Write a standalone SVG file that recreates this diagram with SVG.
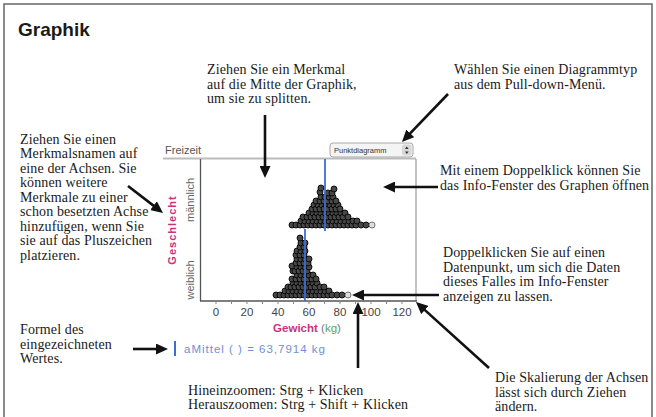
<svg xmlns="http://www.w3.org/2000/svg" width="656" height="417" viewBox="0 0 656 417">
<style>
.t{font-family:"Liberation Serif","Times New Roman",serif;font-size:14px;fill:#1a1a1a;letter-spacing:0.12px}
.s{font-family:"Liberation Sans",Arial,sans-serif}
.arr{stroke:#111;stroke-width:2.6;fill:none;marker-end:url(#ah)}
.d{fill:#474747;stroke:#050505;stroke-width:0.9}
.o{fill:#ddd;stroke:#666;stroke-width:0.9}
.tk{font-family:"Liberation Sans",Arial,sans-serif;font-size:11.5px;fill:#444;text-anchor:middle}
</style>
<defs>
<marker id="ah" markerUnits="userSpaceOnUse" markerWidth="13" markerHeight="11" refX="4" refY="5.5" orient="auto">
<path d="M0,0 L12,5.5 L0,11 Z" fill="#111"/>
</marker>
</defs>
<rect width="656" height="417" fill="#fff"/>
<path d="M4,420 V4 H652 V420" fill="none" stroke="#666" stroke-width="1.5"/>
<text x="18" y="36" class="s" font-size="19" font-weight="bold" fill="#1a1a1a">Graphik</text>

<g id="plot">
<text x="165" y="154" class="s" font-size="11" fill="#555">Freizeit</text>
<line x1="163" y1="158.5" x2="416" y2="158.5" stroke="#bbb" stroke-width="2"/>
<g id="dropdown">
<rect x="330" y="143" width="83" height="14" rx="3" fill="#f4f4f4" stroke="#aaa"/>
<text x="334" y="153.3" class="s" font-size="7.5" fill="#333">Punktdiagramm</text>
<rect x="402" y="144.5" width="9.5" height="11" rx="2" fill="#d8d8d8"/>
<path d="M405,149 L406.8,146.5 L408.6,149 Z M405,151.5 L406.8,154 L408.6,151.5 Z" fill="#333"/>
</g>
<line x1="200.5" y1="159" x2="200.5" y2="301" stroke="#555" stroke-width="1.3"/>
<line x1="416" y1="159" x2="416" y2="301" stroke="#999" stroke-width="1.2"/>
<line x1="200" y1="301" x2="417" y2="301" stroke="#555" stroke-width="1.3"/>
<path d="M216,301v3M231.5,301v3M247,301v3M262.5,301v3M278,301v3M293.5,301v3M309,301v3M324.5,301v3M340,301v3M355.5,301v3M371,301v3M386.5,301v3M402,301v3" stroke="#888" stroke-width="1"/>
<text class="tk" x="216" y="316">0</text>
<text class="tk" x="247" y="316">20</text>
<text class="tk" x="278" y="316">40</text>
<text class="tk" x="309" y="316">60</text>
<text class="tk" x="340" y="316">80</text>
<text class="tk" x="371" y="316">100</text>
<text class="tk" x="402" y="316">120</text>
<text x="307" y="332" class="s" font-size="11.5" text-anchor="middle"><tspan font-weight="bold" fill="#c8337e">Gewicht</tspan><tspan fill="#777"> (</tspan><tspan fill="#55aa55">kg</tspan><tspan fill="#777">)</tspan></text>
<text transform="translate(176,230) rotate(-90)" class="s" font-size="11" font-weight="bold" fill="#c8337e" text-anchor="middle" letter-spacing="1">Geschlecht</text>
<text transform="translate(194,200) rotate(-90)" class="s" font-size="11" fill="#666" text-anchor="middle">männlich</text>
<text transform="translate(194,280) rotate(-90)" class="s" font-size="11" fill="#666" text-anchor="middle">weiblich</text>

<g id="dots-male">
<circle class="d" r="3" cx="292" cy="225"/>
<circle class="d" r="3" cx="296" cy="225"/>
<circle class="d" r="3" cx="300" cy="225"/><circle class="d" r="3" cx="301" cy="221"/>
<circle class="d" r="3" cx="304" cy="225"/><circle class="d" r="3" cx="305" cy="221"/><circle class="d" r="3" cx="303" cy="217"/>
<circle class="d" r="3" cx="308" cy="225"/><circle class="d" r="3" cx="309" cy="221"/><circle class="d" r="3" cx="307" cy="217"/><circle class="d" r="3" cx="309" cy="213"/>
<circle class="d" r="3" cx="312" cy="225"/><circle class="d" r="3" cx="313" cy="221"/><circle class="d" r="3" cx="311" cy="217"/><circle class="d" r="3" cx="313" cy="213"/><circle class="d" r="3" cx="312" cy="209"/><circle class="d" r="3" cx="314" cy="205"/>
<circle class="d" r="3" cx="316" cy="225"/><circle class="d" r="3" cx="317" cy="221"/><circle class="d" r="3" cx="315" cy="217"/><circle class="d" r="3" cx="317" cy="213"/><circle class="d" r="3" cx="316" cy="209"/><circle class="d" r="3" cx="318" cy="205"/><circle class="d" r="3" cx="316" cy="201"/>
<circle class="d" r="3" cx="320" cy="225"/><circle class="d" r="3" cx="321" cy="221"/><circle class="d" r="3" cx="319" cy="217"/><circle class="d" r="3" cx="321" cy="213"/><circle class="d" r="3" cx="320" cy="209"/><circle class="d" r="3" cx="322" cy="205"/><circle class="d" r="3" cx="320" cy="201"/><circle class="d" r="3" cx="321" cy="197"/><circle class="d" r="3" cx="320" cy="192"/><circle class="d" r="3" cx="321" cy="188"/>
<circle class="d" r="3" cx="324" cy="225"/><circle class="d" r="3" cx="325" cy="221"/><circle class="d" r="3" cx="323" cy="217"/><circle class="d" r="3" cx="325" cy="213"/><circle class="d" r="3" cx="324" cy="209"/><circle class="d" r="3" cx="326" cy="205"/><circle class="d" r="3" cx="324" cy="201"/><circle class="d" r="3" cx="325" cy="197"/>
<circle class="d" r="3" cx="328" cy="225"/><circle class="d" r="3" cx="329" cy="221"/><circle class="d" r="3" cx="327" cy="217"/><circle class="d" r="3" cx="329" cy="213"/><circle class="d" r="3" cx="328" cy="209"/><circle class="d" r="3" cx="330" cy="205"/><circle class="d" r="3" cx="328" cy="201"/><circle class="d" r="3" cx="329" cy="197"/><circle class="d" r="3" cx="328" cy="193"/>
<circle class="d" r="3" cx="332" cy="225"/><circle class="d" r="3" cx="333" cy="221"/><circle class="d" r="3" cx="331" cy="217"/><circle class="d" r="3" cx="333" cy="213"/><circle class="d" r="3" cx="332" cy="209"/><circle class="d" r="3" cx="334" cy="205"/><circle class="d" r="3" cx="332" cy="201"/><circle class="d" r="3" cx="333" cy="197"/><circle class="d" r="3" cx="332" cy="193"/><circle class="d" r="3" cx="334" cy="189"/>
<circle class="d" r="3" cx="336" cy="225"/><circle class="d" r="3" cx="337" cy="221"/><circle class="d" r="3" cx="335" cy="217"/><circle class="d" r="3" cx="337" cy="213"/><circle class="d" r="3" cx="336" cy="209"/><circle class="d" r="3" cx="338" cy="205"/><circle class="d" r="3" cx="336" cy="201"/>
<circle class="d" r="3" cx="340" cy="225"/><circle class="d" r="3" cx="341" cy="221"/><circle class="d" r="3" cx="339" cy="217"/><circle class="d" r="3" cx="341" cy="213"/><circle class="d" r="3" cx="340" cy="209"/>
<circle class="d" r="3" cx="344" cy="225"/><circle class="d" r="3" cx="345" cy="221"/><circle class="d" r="3" cx="343" cy="217"/><circle class="d" r="3" cx="345" cy="213"/>
<circle class="d" r="3" cx="348" cy="225"/><circle class="d" r="3" cx="349" cy="221"/><circle class="d" r="3" cx="348" cy="217"/>
<circle class="d" r="3" cx="352" cy="225"/><circle class="d" r="3" cx="353" cy="221"/>
<circle class="d" r="3" cx="356" cy="225"/><circle class="d" r="3" cx="357" cy="221"/>
<circle class="d" r="3" cx="361" cy="225"/>
<circle class="d" r="3" cx="366" cy="225"/>
<circle class="o" r="3" cx="372" cy="225"/>
</g>

<g id="dots-female">
<circle class="d" r="3" cx="276" cy="295"/>
<circle class="d" r="3" cx="280" cy="295"/>
<circle class="d" r="3" cx="284" cy="295"/><circle class="d" r="3" cx="285" cy="291"/>
<circle class="d" r="3" cx="288" cy="295"/><circle class="d" r="3" cx="289" cy="291"/><circle class="d" r="3" cx="288" cy="287"/>
<circle class="d" r="3" cx="292" cy="295"/><circle class="d" r="3" cx="293" cy="291"/><circle class="d" r="3" cx="291" cy="287"/><circle class="d" r="3" cx="293" cy="283"/><circle class="d" r="3" cx="292" cy="279"/><circle class="d" r="3" cx="293" cy="271"/><circle class="d" r="3" cx="292" cy="266"/>
<circle class="d" r="3" cx="296" cy="295"/><circle class="d" r="3" cx="297" cy="291"/><circle class="d" r="3" cx="295" cy="287"/><circle class="d" r="3" cx="297" cy="283"/><circle class="d" r="3" cx="296" cy="279"/><circle class="d" r="3" cx="297" cy="275"/><circle class="d" r="3" cx="295" cy="271"/><circle class="d" r="3" cx="297" cy="267"/><circle class="d" r="3" cx="296" cy="263"/><circle class="d" r="3" cx="297" cy="259"/><circle class="d" r="3" cx="296" cy="255"/><circle class="d" r="3" cx="297" cy="251"/>
<circle class="d" r="3" cx="300" cy="295"/><circle class="d" r="3" cx="301" cy="291"/><circle class="d" r="3" cx="299" cy="287"/><circle class="d" r="3" cx="301" cy="283"/><circle class="d" r="3" cx="300" cy="279"/><circle class="d" r="3" cx="301" cy="275"/><circle class="d" r="3" cx="299" cy="271"/><circle class="d" r="3" cx="301" cy="267"/><circle class="d" r="3" cx="300" cy="263"/><circle class="d" r="3" cx="301" cy="259"/><circle class="d" r="3" cx="300" cy="255"/><circle class="d" r="3" cx="301" cy="251"/><circle class="d" r="3" cx="300" cy="247"/><circle class="d" r="3" cx="301" cy="243"/><circle class="d" r="3" cx="300" cy="238"/>
<circle class="d" r="3" cx="304" cy="295"/><circle class="d" r="3" cx="305" cy="291"/><circle class="d" r="3" cx="303" cy="287"/><circle class="d" r="3" cx="305" cy="283"/><circle class="d" r="3" cx="304" cy="279"/><circle class="d" r="3" cx="305" cy="275"/><circle class="d" r="3" cx="303" cy="271"/><circle class="d" r="3" cx="305" cy="267"/><circle class="d" r="3" cx="304" cy="263"/><circle class="d" r="3" cx="305" cy="259"/><circle class="d" r="3" cx="304" cy="255"/><circle class="d" r="3" cx="305" cy="251"/><circle class="d" r="3" cx="304" cy="247"/><circle class="d" r="3" cx="305" cy="243"/>
<circle class="d" r="3" cx="308" cy="295"/><circle class="d" r="3" cx="309" cy="291"/><circle class="d" r="3" cx="307" cy="287"/><circle class="d" r="3" cx="309" cy="283"/><circle class="d" r="3" cx="308" cy="279"/><circle class="d" r="3" cx="309" cy="275"/><circle class="d" r="3" cx="307" cy="271"/><circle class="d" r="3" cx="309" cy="267"/><circle class="d" r="3" cx="308" cy="263"/><circle class="d" r="3" cx="309" cy="259"/>
<circle class="d" r="3" cx="312" cy="295"/><circle class="d" r="3" cx="313" cy="291"/><circle class="d" r="3" cx="311" cy="287"/><circle class="d" r="3" cx="313" cy="283"/><circle class="d" r="3" cx="312" cy="279"/><circle class="d" r="3" cx="313" cy="275"/>
<circle class="d" r="3" cx="316" cy="295"/><circle class="d" r="3" cx="317" cy="291"/><circle class="d" r="3" cx="315" cy="287"/><circle class="d" r="3" cx="317" cy="283"/><circle class="d" r="3" cx="316" cy="279"/>
<circle class="d" r="3" cx="320" cy="295"/><circle class="d" r="3" cx="321" cy="291"/><circle class="d" r="3" cx="320" cy="287"/>
<circle class="d" r="3" cx="324" cy="295"/><circle class="d" r="3" cx="325" cy="291"/><circle class="d" r="3" cx="324" cy="287"/>
<circle class="d" r="3" cx="328" cy="295"/><circle class="d" r="3" cx="329" cy="291"/>
<circle class="d" r="3" cx="332" cy="295"/>
<circle class="d" r="3" cx="337" cy="295"/>
<circle class="d" r="3" cx="342" cy="295"/>
<circle class="o" r="3" cx="348" cy="295"/>
</g>
<line x1="325" y1="159" x2="325" y2="231" stroke="#3a6fd8" stroke-width="1.8"/>
<line x1="305" y1="229" x2="305" y2="301" stroke="#3a6fd8" stroke-width="1.8"/>
<g id="legend">
<line x1="175" y1="341" x2="175" y2="356" stroke="#3a6fd8" stroke-width="2"/>
<text x="184" y="352.5" class="s" font-size="11.5" fill="#6f8fd6" textLength="141" lengthAdjust="spacing">aMittel (  ) = 63,7914 kg</text>
</g>
</g>

<g id="note-split"><text class="t" x="207" y="74">Ziehen Sie ein Merkmal</text><text class="t" x="207" y="88.5">auf die Mitte der Graphik,</text><text class="t" x="207" y="103">um sie zu splitten.</text></g>
<g id="note-type"><text class="t" x="454" y="74">Wählen Sie einen Diagrammtyp</text><text class="t" x="454" y="88.5">aus dem Pull-down-Menü.</text></g>
<g id="note-axis">
<text class="t" x="20" y="143.5">Ziehen Sie einen</text>
<text class="t" x="20" y="158">Merkmalsnamen auf</text>
<text class="t" x="20" y="172.5">eine der Achsen. Sie</text>
<text class="t" x="20" y="187">können weitere</text>
<text class="t" x="20" y="201.5">Merkmale zu einer</text>
<text class="t" x="20" y="216">schon besetzten Achse</text>
<text class="t" x="20" y="230.5">hinzufügen, wenn Sie</text>
<text class="t" x="20" y="245">sie auf das Pluszeichen</text>
<text class="t" x="20" y="259.5">platzieren.</text>
</g>
<g id="note-info"><text class="t" x="440" y="175">Mit einem Doppelklick können Sie</text><text class="t" x="440" y="190">das Info-Fenster des Graphen öffnen</text></g>
<g id="note-point"><text class="t" x="443" y="257">Doppelklicken Sie auf einen</text><text class="t" x="443" y="271.5">Datenpunkt, um sich die Daten</text><text class="t" x="443" y="286">dieses Falles im Info-Fenster</text><text class="t" x="443" y="300.5">anzeigen zu lassen.</text></g>
<g id="note-formula"><text class="t" x="20" y="334">Formel des</text><text class="t" x="20" y="348.5">eingezeichneten</text><text class="t" x="20" y="363">Wertes.</text></g>
<g id="note-zoom"><text class="t" x="188" y="394.5">Hineinzoomen: Strg + Klicken</text><text class="t" x="188" y="409">Herauszoomen: Strg + Shift + Klicken</text></g>
<g id="note-scale"><text class="t" x="495" y="382">Die Skalierung der Achsen</text><text class="t" x="495" y="396.5">lässt sich durch Ziehen</text><text class="t" x="495" y="411">ändern.</text></g>

<g id="connectors">
<line class="arr" x1="265" y1="115" x2="265" y2="170"/>
<line class="arr" x1="448" y1="94" x2="407.5" y2="136.2"/>
<line class="arr" x1="438" y1="187" x2="391" y2="187"/>
<line class="arr" x1="439" y1="295" x2="360" y2="295"/>
<line class="arr" x1="358" y1="368" x2="358" y2="310"/>
<line class="arr" x1="489" y1="368" x2="421.9" y2="307.4"/>
<line class="arr" x1="128" y1="186" x2="156.7" y2="208.1"/>
<line class="arr" x1="133" y1="349" x2="160" y2="349"/>
</g>
</svg>
